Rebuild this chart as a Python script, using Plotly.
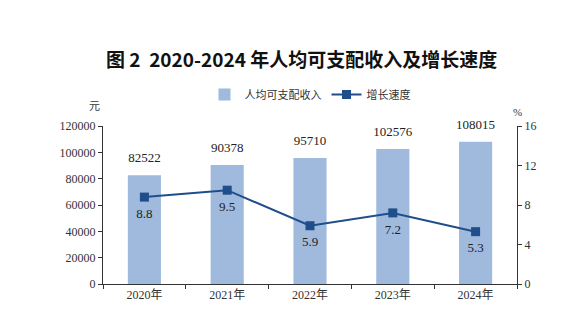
import plotly.graph_objects as go

years = ["2020年", "2021年", "2022年", "2023年", "2024年"]
income = [82522, 90378, 95710, 102576, 108015]
growth = [8.8, 9.5, 5.9, 7.2, 5.3]

bar_color = "#9fbadd"
line_color = "#1f4e8a"
font_fam = "Liberation Serif, Noto Sans CJK SC"

fig = go.Figure()
fig.add_trace(go.Bar(
    x=years, y=income, name="人均可支配收入",
    marker=dict(color=bar_color, line=dict(width=0)),
    cliponaxis=False, width=0.4,
))
fig.add_trace(go.Scatter(
    x=years, y=income, mode="markers+text", showlegend=False,
    marker=dict(size=14, opacity=0),
    text=[str(v) for v in income], textposition="top center",
    textfont=dict(size=13, color="#222", family=font_fam),
    cliponaxis=False, hoverinfo="skip",
))
fig.add_trace(go.Scatter(
    x=years, y=growth, name="增长速度", yaxis="y2",
    mode="lines+markers",
    line=dict(color=line_color, width=2),
    marker=dict(symbol="square", size=9, color=line_color),
))
fig.add_trace(go.Scatter(
    x=years, y=growth, yaxis="y2", mode="markers+text", showlegend=False,
    marker=dict(size=16, opacity=0),
    text=[f"{v:.1f}" for v in growth], textposition="bottom center",
    textfont=dict(size=13, color="#222", family=font_fam),
    cliponaxis=False, hoverinfo="skip",
))

fig.update_layout(
    width=580, height=333,
    margin=dict(l=103, r=63, t=126, b=49),
    paper_bgcolor="white", plot_bgcolor="white",
    font=dict(family=font_fam, size=12, color="#333"),
    title=dict(text="<b>图 2  2020-2024 年人均可支配收入及增长速度</b>",
               x=0.52, xanchor="center", y=0.82, yanchor="middle",
               font=dict(family="Noto Sans CJK SC", size=19, color="#111")),
    showlegend=True,
    legend=dict(orientation="h", x=0.5, xanchor="center", y=1.2, yanchor="middle",
                font=dict(size=11, family="Noto Sans CJK SC", color="#333"),
                itemwidth=30, bgcolor="rgba(0,0,0,0)"),
    xaxis=dict(showline=True, linecolor="#333", linewidth=1,
               ticks="outside", tickson="boundaries", ticklen=4, tickcolor="#333",
               showgrid=False, tickfont=dict(size=12)),
    yaxis=dict(range=[0, 120000], dtick=20000, tickformat="d", showline=True,
               linecolor="#333", ticks="outside", ticklen=4, tickcolor="#333",
               showgrid=False, zeroline=False, tickfont=dict(size=12)),
    yaxis2=dict(range=[0, 16], dtick=4, overlaying="y", side="right",
                showline=True, linecolor="#333", ticks="outside", ticklen=4,
                tickcolor="#333", showgrid=False, zeroline=False,
                tickfont=dict(size=12)),
    annotations=[
        dict(text="元", xref="paper", yref="paper", x=0, y=1.13, xanchor="right",
             yanchor="middle", showarrow=False, xshift=-1,
             font=dict(size=11, family="Noto Sans CJK SC", color="#333")),
        dict(text="%", xref="paper", yref="paper", x=1, y=1.09, xanchor="center",
             yanchor="middle", showarrow=False,
             font=dict(size=11, color="#333")),
    ],
)

fig.write_html("out.html")
